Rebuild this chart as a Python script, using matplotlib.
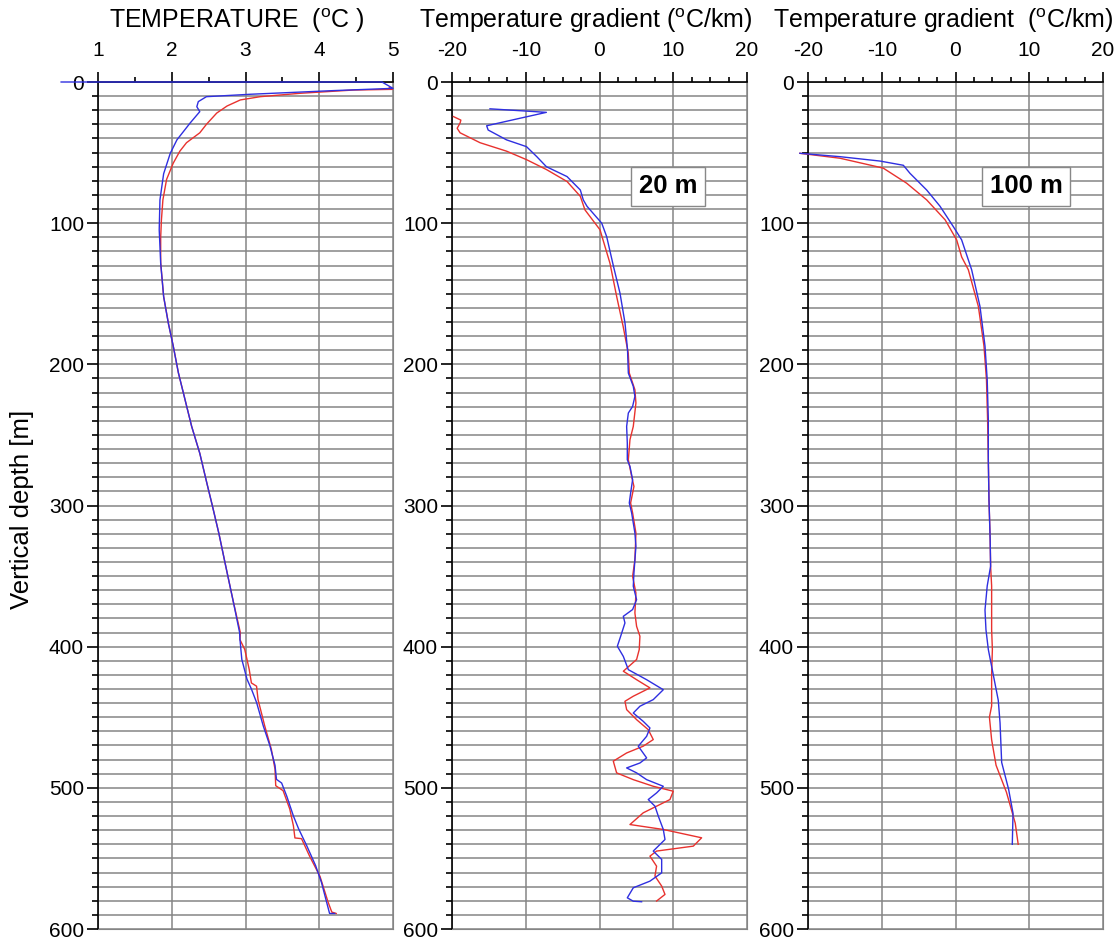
import matplotlib
matplotlib.use('Agg')
import matplotlib.pyplot as plt
from matplotlib.ticker import MultipleLocator

plt.rcParams['font.family'] = ['Liberation Sans', 'DejaVu Sans']
plt.rcParams['mathtext.fontset'] = 'custom'
plt.rcParams['mathtext.rm'] = 'Liberation Sans'
plt.rcParams['mathtext.it'] = 'Liberation Sans:italic'
plt.rcParams['axes.unicode_minus'] = False

# ---- panel 1: temperature (deg C) vs depth (m) ----
temp_red_depth = [4.0, 5.2, 5.7, 8.0, 10.4, 12.7, 17, 22, 30, 36, 43, 49, 57.5, 69, 83.5,
                  97.7, 110, 128, 152, 171, 187, 206, 225, 244, 263, 285, 300, 320, 340,
                  367, 390, 395, 402, 416, 425.7, 428, 437.5, 456, 472.6, 486.7, 498.5,
                  502, 515, 527, 535.5, 536, 548.5, 562.7, 581, 588, 589]
temp_red = [4.95, 5.0, 4.46, 3.74, 3.20, 2.93, 2.75, 2.61, 2.47, 2.38, 2.20, 2.11, 2.02, 1.93,
            1.88, 1.86, 1.85, 1.85, 1.89, 1.955, 2.02, 2.09, 2.18, 2.27, 2.38, 2.48, 2.55,
            2.64, 2.72, 2.83, 2.93, 2.925, 2.99, 3.05, 3.08, 3.15, 3.17, 3.26, 3.35, 3.40,
            3.41, 3.51, 3.60, 3.65, 3.67, 3.76, 3.87, 4.01, 4.12, 4.17, 4.23]

temp_blue_depth = [0, 0, 4.5, 6.1, 8.7, 10.4, 13.9, 17.5, 21, 29, 41, 50.5, 65, 83.5, 104.7,
                   128.4, 152, 171, 187, 206, 225, 244, 263, 285, 300, 320, 340, 367, 390,
                   395, 409, 423, 430, 439.5, 456, 470, 484, 494, 496.6, 506, 520, 529, 541,
                   555, 567, 581, 589, 589]
temp_blue = [0.5, 4.85, 5.0, 4.19, 3.06, 2.47, 2.36, 2.34, 2.38, 2.25, 2.07, 1.98, 1.89, 1.84,
             1.83, 1.85, 1.89, 1.954, 2.02, 2.09, 2.18, 2.27, 2.38, 2.48, 2.55, 2.64, 2.72,
             2.83, 2.92, 2.925, 2.95, 3.02, 3.08, 3.15, 3.24, 3.33, 3.40, 3.42, 3.49, 3.56,
             3.65, 3.72, 3.83, 3.95, 4.03, 4.10, 4.14, 4.21]

# ---- panel 2: gradient over 20 m window (deg C/km) ----
g20_red_depth = [24.5, 27, 29, 32.8, 36, 43, 49, 55, 62, 70.5, 81, 90.6, 104.7, 128.4, 152,
                 173, 192, 206.2, 218, 227.4, 244, 253.4, 267.6, 279.4, 286.5, 298.2, 305.3,
                 319.5, 338.4, 350.2, 362, 376.1, 385.6, 392.6, 402, 409.1, 417.4, 423.4,
                 429.2, 435.1, 438.7, 444.6, 451.7, 458.8, 465.8, 470.5, 475.3, 481.1, 489.4,
                 494.2, 498.9, 502.4, 508.3, 513.0, 517.7, 526.0, 529.5, 535.4, 541.3, 544.8,
                 548.4, 555.5, 562.5, 569.6, 575.5, 580.2]
g20_red = [-19.8, -18.8, -18.9, -19.3, -18.9, -16.2, -12.6, -9.9, -7.2, -4.4, -2.6, -1.97,
           0.07, 1.42, 2.33, 3.2, 3.9, 4.04, 4.80, 4.94, 4.58, 4.13, 3.91, 4.36, 4.67, 4.22,
           4.49, 4.94, 4.80, 4.49, 4.94, 4.80, 5.03, 5.48, 5.39, 5.03, 3.23, 5.03, 6.84, 4.58,
           3.45, 3.68, 5.03, 6.61, 7.29, 5.93, 3.68, 1.87, 2.32, 4.58, 7.29, 10.0, 9.55, 7.74,
           5.93, 4.13, 8.65, 13.85, 12.72, 7.74, 6.84, 7.74, 7.52, 8.43, 8.88, 7.74]

g20_blue_depth = [19, 21.5, 25.7, 31, 34, 41, 45.8, 52.9, 60, 67, 76.5, 83.5, 88, 100, 109.5,
                  130.7, 149.6, 170.8, 189.7, 206.2, 215.6, 222.7, 229.8, 234.5, 244, 255.8,
                  267.6, 272.3, 281.7, 291.2, 298.2, 305.3, 319.5, 328.9, 347.8, 357.2, 366.7,
                  373.7, 378.5, 383.2, 392.6, 399.7, 406.9, 416.3, 423.4, 430.5, 437.5, 442.2,
                  447.0, 452.9, 457.6, 463.5, 470.5, 478.8, 482.4, 485.9, 489.4, 494.2, 498.9,
                  503.6, 508.3, 513.0, 520.0, 529.5, 536.6, 544.8, 550.7, 560.2, 566.1, 570.8,
                  577.9, 580.3, 580.7]
g20_blue = [-14.85, -7.2, -10.8, -15.3, -15.1, -12.6, -9.9, -8.5, -7.2, -4.4, -2.6, -2.2, -1.7,
            0.3, 0.97, 1.9, 2.78, 3.46, 3.8, 3.91, 4.58, 4.80, 4.49, 3.91, 3.68, 3.77, 3.77,
            4.13, 4.49, 4.22, 4.04, 4.36, 4.80, 4.94, 4.67, 4.58, 5.03, 4.49, 3.23, 3.45, 2.87,
            2.42, 3.23, 3.91, 6.39, 8.65, 7.29, 5.48, 4.58, 5.93, 6.84, 6.39, 5.26, 6.39, 5.48,
            3.68, 5.03, 6.39, 8.65, 7.74, 6.61, 7.52, 7.97, 8.65, 8.88, 7.29, 8.43, 8.43, 6.84,
            4.58, 3.77, 4.58, 5.71]

# ---- panel 3: gradient over 100 m window (deg C/km) ----
g100_red_depth = [50.5, 54, 61, 71.7, 83.5, 97.7, 111.9, 124, 133, 159, 187, 211, 239, 267.6,
                  296, 324, 343, 357, 388, 402, 419, 442, 450, 466, 484, 503, 525, 540]
g100_red = [-21.1, -15.66, -9.8, -6.62, -3.91, -1.4, 0.16, 0.84, 1.74, 3.1, 3.86, 4.2, 4.35,
            4.45, 4.54, 4.7, 4.76, 4.9, 4.9, 5.0, 4.9, 4.9, 4.6, 4.9, 5.5, 6.9, 8.1, 8.5]

g100_blue_depth = [50.5, 52.9, 56, 59, 64.7, 76.5, 88, 102.4, 111.8, 133, 159, 187, 211, 239,
                   267.6, 296, 324, 343, 357, 374, 388, 402, 414, 438, 454, 482, 501, 518, 540]
g100_blue = [-21.1, -15.66, -10.24, -7.07, -6.17, -3.91, -2.1, -0.3, 0.83, 2.19, 3.32, 4.0,
             4.3, 4.45, 4.45, 4.54, 4.7, 4.76, 4.3, 4.0, 4.13, 4.45, 4.9, 5.8, 6.04, 6.26, 7.2,
             7.8, 7.7]

depth_ticks = [0, 100, 200, 300, 400, 500, 600]
temp_ticks = [1, 2, 3, 4, 5]
grad_ticks = [-20, -10, 0, 10, 20]

RED = '#e8322e'
BLUE = '#2f2fe0'
GRID = '#858585'


def style(ax, xlim, xticks, xminor):
    ax.set_xlim(xlim)
    ax.set_ylim(600, 0)
    ax.xaxis.tick_top()
    ax.set_xticks(xticks)
    ax.xaxis.set_minor_locator(MultipleLocator(xminor))
    ax.set_yticks(depth_ticks)
    ax.yaxis.set_minor_locator(MultipleLocator(10))
    ax.grid(axis='x', which='major', color=GRID, lw=1.1)
    ax.grid(axis='y', which='both', color=GRID, lw=1.1)
    ax.tick_params(axis='x', which='major', direction='out', length=7, width=1.2,
                   pad=9, labelsize=15, top=True, bottom=False)
    ax.tick_params(axis='x', which='minor', direction='out', length=3.5, width=1.2,
                   top=True, bottom=False)
    ax.tick_params(axis='y', which='major', direction='out', length=8, width=1.2,
                   pad=2, labelsize=15)
    ax.tick_params(axis='y', which='minor', direction='out', length=4, width=1.2)
    ax.spines['left'].set_color('black')
    ax.spines['left'].set_linewidth(1.2)
    ax.spines['top'].set_color('black')
    ax.spines['top'].set_linewidth(1.2)
    ax.spines['right'].set_color(GRID)
    ax.spines['bottom'].set_color(GRID)
    ax.set_axisbelow(True)


fig = plt.figure(figsize=(11.19, 9.41), dpi=100)
W, H = 1119, 941
pw, top_px, bot_px = 295, 82, 929


def make_ax(left_px):
    return fig.add_axes([left_px / W, (H - bot_px) / H, pw / W, (bot_px - top_px) / H])


ax1 = make_ax(98)
ax2 = make_ax(452)
ax3 = make_ax(808)

style(ax1, (1, 5), temp_ticks, 0.5)
style(ax2, (-20, 20), grad_ticks, 2.5)
style(ax3, (-20, 20), grad_ticks, 2.5)

ax1.plot(temp_red, temp_red_depth, color=RED, lw=1.0, zorder=4)
ax1.plot(temp_blue, temp_blue_depth, color=BLUE, lw=1.0, clip_on=False, zorder=4)

ax2.plot(g20_red, g20_red_depth, color=RED, lw=1.0, zorder=4)
ax2.plot(g20_blue, g20_blue_depth, color=BLUE, lw=1.0, zorder=4)

ax3.plot(g100_red, g100_red_depth, color=RED, lw=1.0, clip_on=False, zorder=4)
ax3.plot(g100_blue, g100_blue_depth, color=BLUE, lw=1.0, clip_on=False, zorder=4)

box = dict(boxstyle='square,pad=0.3', facecolor='white', edgecolor='#888888', lw=1.0)
ax2.text(9.3, 74, '20 m', fontsize=18.5, fontweight='bold', ha='center', va='center', bbox=box)
ax3.text(9.6, 74, '100 m', fontsize=18.5, fontweight='bold', ha='center', va='center', bbox=box)

fig.text(237 / W, 1 - 28 / H, r'TEMPERATURE  ($^{\mathrm{o}}$C )', fontsize=18,
         ha='center', va='baseline')
fig.text(586 / W, 1 - 28 / H, r'Temperature gradient ($^{\mathrm{o}}$C/km)', fontsize=18,
         ha='center', va='baseline')
fig.text(943 / W, 1 - 28 / H, r'Temperature gradient  ($^{\mathrm{o}}$C/km)', fontsize=18,
         ha='center', va='baseline')
fig.text(22 / W, 1 - 509 / H, 'Vertical depth [m]', fontsize=18.5, rotation=90,
         ha='center', va='center')

fig.savefig('out.png', dpi=100)
